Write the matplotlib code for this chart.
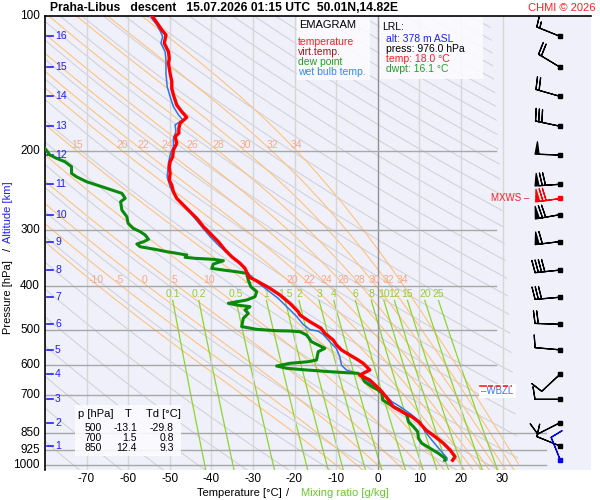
import numpy as np
import matplotlib
matplotlib.use('Agg')
import matplotlib.pyplot as plt
from matplotlib.patches import Rectangle, Polygon

plt.rcParams['font.family'] = ['Liberation Sans', 'DejaVu Sans']

# sounding (hPa, degC)
temp_p = [100, 104.7, 107.4, 110.2, 115.0, 120.1, 124.3, 127.5, 134.2, 140.0, 144.9, 150.0,
          157.8, 163.4, 168.1, 173.3, 177.9, 182.4, 185.7, 192.1, 198.9, 205.9, 211.3, 216.8,
          224.3, 232.1, 238.1, 246.4, 254.8, 261.5, 268.3, 272.9, 282.2, 294.6, 302.2, 310.1,
          318.2, 332.0, 343.6, 355.4, 364.8, 371.7, 381.4, 390.4, 404.2, 418.2, 436.4, 455.6,
          463.4, 479.6, 496.2, 509.0, 526.8, 540.5, 554.4, 568.9, 583.6, 593.6, 609.0, 614.3,
          630.4, 646.7, 669.4, 686.8, 710.5, 741.7, 760.9, 780.6, 801.0, 835.7, 865.0, 894.6,
          925.9, 958.4, 976.0]
temp_t = [-54.2, -52.7, -51.9, -50.9, -51.3, -50.3, -50.1, -50.3, -49.9, -49.5, -49.5, -49.1,
          -48.3, -47.1, -45.9, -47.5, -47.8, -47.8, -48.7, -48.3, -49.1, -49.3, -49.9, -50.1,
          -49.9, -50.1, -49.5, -49.1, -48.3, -47.1, -45.9, -45.1, -43.5, -41.9, -40.7, -39.5,
          -38.3, -36.7, -35.1, -33.1, -31.9, -31.5, -30.9, -28.8, -25.9, -23.5, -21.1, -19.1,
          -18.7, -16.3, -13.6, -12.7, -10.7, -9.9, -8.7, -6.7, -4.7, -3.5, -2.3, -1.9,
          -4.3, -1.9, -0.2, 1.0, 2.3, 3.75, 5.8, 8.2, 9.8, 11.6, 13.8, 15.8,
          17.4, 18.6, 18.0]

dwpt_p = [188, 197.1, 204.0, 207.5, 211.1, 216.6, 224.1, 228.1, 233.9, 240.0, 244.1, 248.3,
          254.7, 259.2, 270.5, 279.9, 289.5, 297.1, 302.2, 307.4, 314.3, 318.2, 322.0, 326.5,
          330.9, 334.9, 337.7, 340.7, 344.7, 346.5, 348.3, 350.8, 356.8, 364.8, 368.0, 371.2,
          374.3, 387.3, 400.8, 411.2, 422.0, 429.1, 436.4, 440.2, 444.0, 451.6, 459.4, 471.4,
          491.7, 498.7, 502.3, 503.0, 504.8, 513.4, 531.5, 540.5, 549.7, 559.4, 583.6, 588.8,
          593.6, 601.9, 609.0, 614.3, 619.7, 622.9, 624.9, 636.0, 652.4, 669.4, 680.8, 692.4,
          716.6, 729.0, 741.7, 754.3, 773.8, 801.0, 821.7, 843.0, 872.0, 894.6, 918.0, 941.8,
          966.3, 976.0]
dwpt_td = [-84.0, -80.0, -78.8, -77.2, -75.2, -73.6, -73.6, -72.4, -70.0, -66.3, -63.9, -61.5,
           -60.7, -61.8, -61.5, -60.3, -60.0, -58.8, -57.1, -55.9, -55.1, -56.3, -57.9, -57.1,
           -53.5, -50.7, -48.3, -45.9, -46.3, -43.9, -39.5, -37.1, -39.5, -39.9, -37.1, -33.9,
           -31.5, -31.1, -30.5, -29.1, -29.5, -31.5, -35.9, -33.9, -30.7, -31.9, -31.1, -32.3,
           -32.7, -29.1, -24.3, -21.1, -18.7, -17.1, -15.9, -14.3, -12.7, -14.3, -14.7, -16.7,
           -21.1, -24.3, -21.9, -17.1, -11.5, -7.5, -4.7, -3.8, -3.1, -1.4, 0.1, 1.0,
           1.2, 2.5, 3.75, 5.4, 7.0, 7.4, 8.6, 9.6, 9.8, 10.6, 12.6, 14.6,
           16.2, 16.1]

wetb_p = [100, 104.7, 108.4, 111.2, 115.0, 120.1, 125.3, 134.2, 143.7, 151.3, 159.2, 166.0,
          170.3, 174.8, 180.9, 187.3, 195.5, 202.1, 212.5, 228.1, 240.0, 248.3, 256.9, 265.9,
          279.9, 294.6, 310.1, 326.5, 340.7, 355.4, 371.2, 387.3, 390.7, 425.6, 443.9, 466.7,
          486.6, 499.3, 503.5, 512.1, 531.5, 550.8, 574.8, 599.6, 614.3, 624.9, 635.9, 662.8,
          686.8, 722.8, 741.7, 768.5, 801.0, 843.0, 879.8, 925.9, 966.3, 976.0]
wetb_t = [-54.7, -53.1, -52.2, -51.7, -52.1, -51.1, -50.9, -50.9, -50.6, -49.9, -49.1, -47.9,
          -46.9, -48.7, -48.5, -49.1, -49.1, -49.8, -50.3, -50.6, -49.9, -49.1, -47.9, -46.3,
          -44.3, -42.3, -40.3, -37.9, -35.5, -33.1, -31.5, -29.5, -29.1, -23.9, -21.9, -19.5,
          -17.9, -16.3, -14.3, -13.1, -11.5, -9.9, -9.1, -8.7, -7.5, -5.0, -3.5, -1.4,
          1.0, 3.4, 5.4, 7.8, 10.2, 11.4, 13.0, 15.0, 16.7, 16.6]

# altitude marks (km) and the pressure where they sit
alt_km = [16, 15, 14, 13, 12, 11, 10, 9, 8, 7, 6, 5, 4, 3, 2, 1]
alt_p = [111, 130, 151, 176, 204, 237, 277, 318, 368, 423, 486, 554, 628, 714, 805, 907]

# winds at the altitude marks (direction deg, speed kt)
wind_dir = [292, 301, 286, 282, 272, 266, 260, 263, 264, 265, 272, 275, 227, 270, 243, 292]
wind_kt = [15, 20, 20, 30, 50, 70, 70, 60, 40, 30, 20, 10, 10, 10, 10, 10]
mxws_p, mxws_dir, mxws_kt = 254, 262, 70
sfc_p, sfc_dir, sfc_kt = 976, 338, 10

pres_ticks = [100, 200, 300, 400, 500, 600, 700, 850, 925, 1000]
temp_ticks = [-70, -60, -50, -40, -30, -20, -10, 0, 10, 20, 30]
thw_lines = [-10, -5, 0, 5, 10, 15, 20, 22, 24, 26, 28, 30, 32, 34]
mix_lines = [0.1, 0.2, 0.5, 1, 1.5, 2, 3, 4, 6, 8, 10, 12, 15, 20, 25]
mix_labels = ['0.1', '0.2', '0.5', '1', '1.5', '2', '3', '4', '6', '8', '10', '12', '15', '20', '25']

table_rows = [('500', '-13.1', '-29.8'), ('700', '1.5', '0.8'), ('850', '12.4', '9.3')]


def moist_line(thw, p):
    # pseudo-adiabat through thw at 1000 hPa, RK4 in ln p
    def lapse(T, pp):
        tc = T - 273.15
        es = 6.112 * np.exp(17.67 * tc / (tc + 243.5))
        rs = 0.622 * es / (pp - es)
        return (287.04 * T + 2.501e6 * rs) / (1005.7 + 2.501e6 ** 2 * rs * 0.622 / (287.04 * T ** 2))
    out = []
    for pe in p:
        T = thw + 273.15
        lp0, lp1 = np.log(1000.0), np.log(pe)
        n = 60
        h = (lp1 - lp0) / n
        lp = lp0
        for _ in range(n):
            k1 = lapse(T, np.exp(lp))
            k2 = lapse(T + h * k1 / 2, np.exp(lp + h / 2))
            k3 = lapse(T + h * k2 / 2, np.exp(lp + h / 2))
            k4 = lapse(T + h * k3, np.exp(lp + h))
            T += h * (k1 + 2 * k2 + 2 * k3 + k4) / 6
            lp += h
        out.append(T - 273.15)
    return np.array(out)


def mix_td(w, p):
    e = w * p / (622.0 + w)
    a = np.log(e / 6.112)
    return 243.5 * a / (17.67 - a)


def x2t(px):
    return (px - 377.7) / 4.16


fig = plt.figure(figsize=(6, 5), dpi=100)
ax = fig.add_axes([45 / 600, 1 - 470 / 500, 546 / 600, 454 / 500])
ax.set_facecolor('#f0f0fb')
ax.set_yscale('log')
ax.set_ylim(1026, 100)
ax.set_xlim(x2t(45), x2t(591))
for s in ['right', 'bottom']:
    ax.spines[s].set_visible(False)
ax.spines['left'].set_linewidth(1.2)
ax.spines['top'].set_linewidth(1.2)
ax.set_xticks([])
ax.set_yticks([])
ax.minorticks_off()

clip = Polygon([(-80, 100), (27, 100), (34, 1030), (-80, 1030)], closed=True,
               transform=ax.transData, fill=False, visible=False)
ax.add_patch(clip)

pg = np.logspace(2, np.log10(1030), 120)
for th in range(190, 600, 10):
    ln, = ax.plot(th * (pg / 1000) ** 0.2857 - 273.15, pg, color='#d2d2d6', lw=0.8, zorder=1)
    ln.set_clip_path(clip)

pm = np.logspace(2, np.log10(1030), 50)
for thw in thw_lines:
    tm = moist_line(thw, pm)
    ln, = ax.plot(tm, pm, color='#ffc27a', lw=0.8, zorder=1.5)
    ln.set_clip_path(clip)
    for lp, lab_p in [(200, 193.5), (395, 387)]:
        tl = moist_line(thw, [lp])[0]
        if tl > -78:
            ax.text(tl, lab_p, str(thw), color='#f7a888', fontsize=7.5, ha='center', va='center', zorder=3)

pw = np.logspace(np.log10(430), np.log10(1030), 30)
for w, lab in zip(mix_lines, mix_labels):
    ax.plot(mix_td(w, pw), pw, color='#8fd42a', lw=0.9, zorder=2)
    ax.text(mix_td(w, 430), 416, lab, color='#99cc33', fontsize=7.5, ha='center', va='center', zorder=3)

for t in temp_ticks:
    ax.axvline(t, color='#909090' if t == 0 else '#d6d6d6', lw=1, zorder=2)
    ax.text(t, 1075, str(t), ha='center', va='center', fontsize=8.5, clip_on=False)

for p in pres_ticks:
    if p > 100:
        ax.plot([-80, 40.4 if p >= 850 else 28.4], [p, p], color='#a8a8a8', lw=1, zorder=2)
    ax.text(x2t(40), p, str(p), ha='right', va='center', fontsize=8.5, clip_on=False)

for km, p in zip(alt_km, alt_p):
    ax.plot([x2t(47), x2t(53)], [p, p], color='#2020ee', lw=1.2, zorder=4)
    ax.text(x2t(55), p, str(km), color='#2020ee', fontsize=7.5, ha='left', va='center', zorder=4)

ax.plot(wetb_t, wetb_p, color='#2f74e8', lw=1.1, zorder=5)
ax.plot(dwpt_td, dwpt_p, color='#0a8a0a', lw=2.2, zorder=6)
ax.plot(temp_t, temp_p, color='#ff0000', lw=2.4, zorder=7)

# winds
xb = x2t(560)
bl = 6.0
bsz = dict(width=0.16, spacing=0.13, height=0.5)
r = np.deg2rad(wind_dir)
u = -np.array(wind_kt) * np.sin(r)
v = -np.array(wind_kt) * np.cos(r)
ax.barbs(np.full(len(alt_p), xb), alt_p, u, v, length=bl, sizes=bsz, color='k', lw=0.9, zorder=8)
ax.plot(np.full(len(alt_p), xb), alt_p, 's', ms=2.8, color='k', zorder=9)
rm = np.deg2rad(mxws_dir)
ax.barbs([xb], [mxws_p], [-mxws_kt * np.sin(rm)], [-mxws_kt * np.cos(rm)], length=bl, sizes=bsz,
         color='#ff0000', lw=0.9, zorder=8)
ax.plot([xb], [mxws_p], 's', ms=2.8, color='#ff0000', zorder=9)
ax.text(x2t(529), mxws_p, 'MXWS \u2013', color='#ff2020', fontsize=7, ha='right', va='center')
rs_ = np.deg2rad(sfc_dir)
ax.barbs([xb], [sfc_p], [-sfc_kt * np.sin(rs_)], [-sfc_kt * np.cos(rs_)], length=bl, sizes=bsz,
         color='#0000ee', lw=0.9, zorder=8)
ax.plot([xb], [sfc_p], 's', ms=2.8, color='#0000ee', zorder=9)

# freezing level mark mostly hidden under the wet bulb zero label
ax.plot([x2t(480), x2t(486)], [668, 668], color='#ff2020', lw=1.2, zorder=11)
ax.plot([x2t(488), x2t(512)], [668, 668], color='#ff2020', lw=1.2, ls=(0, (3, 1.5)), zorder=11)
ax.text(x2t(481), 684, '\u2013WBZL', color='#3377ee', fontsize=7, ha='left', va='center', zorder=10,
        bbox=dict(boxstyle='square,pad=0.25', fc='white', ec='none', alpha=0.9))


def ftxt(x, y, s, **kw):
    fig.text(x / 600, 1 - y / 500, s, **kw)


def fbox(x0, y0, x1, y1):
    fig.patches.append(Rectangle((x0 / 600, 1 - y1 / 500), (x1 - x0) / 600, (y1 - y0) / 500,
                                 transform=fig.transFigure, fc='#fbfbff', ec='none', alpha=0.9, zorder=20))


ftxt(50, 8, 'Praha-Libus   descent   15.07.2026 01:15 UTC  50.01N,14.82E', fontsize=8.7,
     fontweight='bold', va='center')
ftxt(596, 8, 'CHMI \u00a9 2026', color='#ff2020', fontsize=8, ha='right', va='center')

fbox(297, 17, 370, 80)
ftxt(299, 25, 'EMAGRAM', fontsize=8, va='center', zorder=21)
for i, (s, c) in enumerate([('temperature', '#ff2020'), ('virt.temp.', '#a01818'),
                            ('dew point', '#20a020'), ('wet bulb temp.', '#3388ff')]):
    ftxt(298, 42 + i * 10, s, color=c, fontsize=7.5, va='center', zorder=21)

fbox(380, 17, 483, 79)
ftxt(382, 27, 'LRL:', fontsize=7.5, va='center', zorder=21)
for i, (s, c) in enumerate([('alt: 378 m ASL', '#2020ff'), ('press: 976.0 hPa', 'black'),
                            ('temp: 18.0 \u00b0C', '#ff2020'), ('dwpt: 16.1 \u00b0C', '#20a020')]):
    ftxt(386, 39 + i * 10, s, color=c, fontsize=7.5, va='center', zorder=21)

fbox(75, 405, 181, 456)
ftxt(78, 414, 'p [hPa]', fontsize=8, va='center', zorder=21)
ftxt(128, 414, 'T', fontsize=8, ha='center', va='center', zorder=21)
ftxt(146, 414, 'Td [\u00b0C]', fontsize=8, va='center', zorder=21)
for i, (pp, tt, dd) in enumerate(table_rows):
    y = 428 + i * 10
    ftxt(102, y, pp, fontsize=7.5, ha='right', va='center', zorder=21)
    ftxt(137, y, tt, fontsize=7.5, ha='right', va='center', zorder=21)
    ftxt(174, y, dd, fontsize=7.5, ha='right', va='center', zorder=21)

ftxt(239, 493, 'Temperature [\u00b0C]', fontsize=8, ha='center', va='center')
ftxt(288, 493, '/', fontsize=8, ha='center', va='center')
ftxt(345, 493, 'Mixing ratio [g/kg]', color='#66cc22', fontsize=8, ha='center', va='center')
ftxt(8, 297, 'Pressure [hPa]', fontsize=8, rotation=90, ha='center', va='center')
ftxt(8, 249, '/', fontsize=8, rotation=90, ha='center', va='center')
ftxt(8, 212, 'Altitude [km]', color='#2020ff', fontsize=8, rotation=90, ha='center', va='center')

fig.savefig('out.png', dpi=100)
